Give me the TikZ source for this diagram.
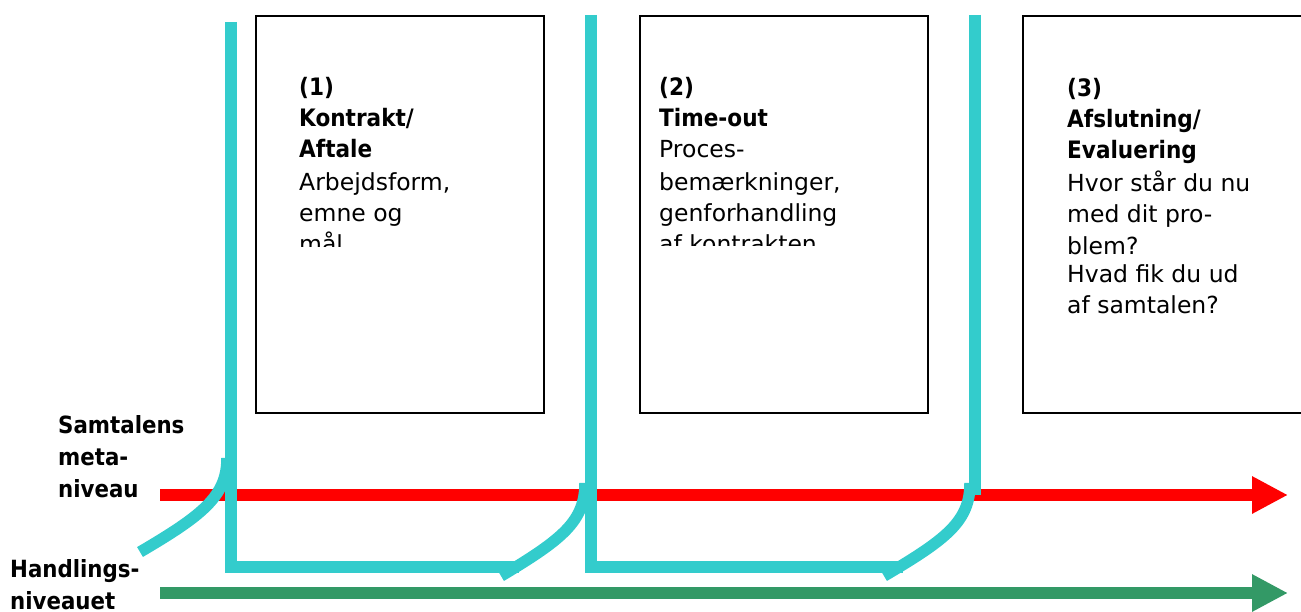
\documentclass[tikz,border=0pt]{standalone}
\usepackage{fontspec}
\setmainfont{DejaVu Sans}
\newfontfamily\condf{DejaVu Sans Condensed}
\usetikzlibrary{arrows.meta}
\definecolor{cyanline}{RGB}{51,204,204}
\definecolor{redline}{RGB}{255,0,0}
\definecolor{greenline}{RGB}{51,153,102}
\newcommand{\hd}[1]{{\condf\bfseries\fontsize{24}{31}\selectfont #1}}
\begin{document}
\begin{tikzpicture}[x=1pt,y=-1pt,
  box/.style={draw=black,line width=2pt,rectangle,inner sep=0pt,anchor=north west},
  phase/.style={draw=cyanline,line width=11.5pt,line cap=butt,line join=miter},
  level/.style={line width=12pt,-{Triangle[length=36pt,width=35pt]}},
  txt/.style={anchor=base west,inner sep=0pt,font=\fontsize{23.5}{31}\selectfont},
  lbl/.style={anchor=base west,inner sep=0pt,font=\condf\bfseries\fontsize{23.7}{32}\selectfont},
]
\useasboundingbox (0,0) rectangle (1301,612);
\clip (0,0) rectangle (1301,612);

% boxes
\node[box,minimum width=288pt,minimum height=397pt] (box1) at (255,15) {};
\node[box,minimum width=288pt,minimum height=397pt] (box2) at (639,15) {};
\node[box,minimum width=300pt,minimum height=397pt] (box3) at (1022,15) {};

% box texts
\begin{scope}
\clip (256,16) rectangle (542,247);
\node[txt] (t1) at (299,96) {\begin{tabular}[t]{@{}l@{}}\hd{(1)}\\ \hd{Kontrakt/}\\ \hd{Aftale}\\[2pt] Arbejdsform,\\ emne og\\ mål\end{tabular}};
\end{scope}
\begin{scope}
\clip (640,16) rectangle (926,246);
\node[txt] (t2) at (659,96) {\begin{tabular}[t]{@{}l@{}}\hd{(2)}\\ \hd{Time-out}\\ Proces-\\[2pt] bemærkninger,\\ genforhandling\\ af kontrakten\end{tabular}};
\end{scope}
\node[txt] (t3) at (1067,97) {\begin{tabular}[t]{@{}l@{}}\hd{(3)}\\ \hd{Afslutning/}\\ \hd{Evaluering}\\[2pt] Hvor står du nu\\ med dit pro-\\[1pt] blem?\\[-3pt] Hvad fik du ud\\ af samtalen?\end{tabular}};

% level labels
\node[lbl] (meta) at (58,433) {\begin{tabular}[t]{@{}l@{}}Samtalens\\ meta-\\ niveau\end{tabular}};
\node[lbl] (hand) at (10,577) {\begin{tabular}[t]{@{}l@{}}Handlings-\\ niveauet\end{tabular}};

% level arrows
\coordinate (r0) at (160,495);
\coordinate (r1) at (1288,495);
\coordinate (g0) at (160,593);
\coordinate (g1) at (1288,593);
\draw[level,redline] (r0) -- (r1);
\draw[level,greenline] (g0) -- (g1);

% cyan phase lines
\coordinate (v1top) at (231,22);
\coordinate (v1bot) at (231,567);
\coordinate (h1end) at (519,567);
\coordinate (v2top) at (591,15);
\coordinate (v2bot) at (591,567);
\coordinate (h2end) at (903,567);
\coordinate (v3top) at (975,15);
\coordinate (v3bot) at (975,495);
\coordinate (c1a) at (140,552);
\coordinate (c1b) at (227,458);
\coordinate (c2a) at (501,576);
\coordinate (c2b) at (585,483);
\coordinate (c3a) at (884,576);
\coordinate (c3b) at (970,483);

\draw[phase] (v1top) -- (v1bot) -- (h1end);
\draw[phase] (v2top) -- (v2bot) -- (h2end);
\draw[phase] (v3top) -- (v3bot);
\draw[phase] (c1a) .. controls (203,515) and (227,496) .. (c1b);
\draw[phase] (c2a) .. controls (563,539) and (585,521) .. (c2b);
\draw[phase] (c3a) .. controls (947,539) and (970,521) .. (c3b);
\end{tikzpicture}
\end{document}
